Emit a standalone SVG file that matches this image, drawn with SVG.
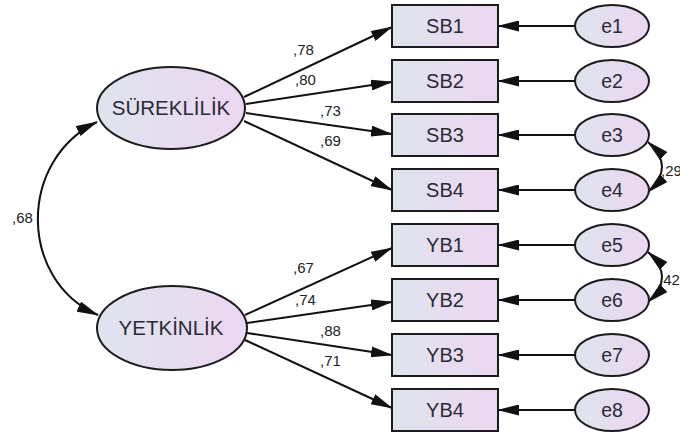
<svg xmlns="http://www.w3.org/2000/svg" width="680" height="440" viewBox="0 0 680 440">
<defs>
<linearGradient id="fillg" x1="0" y1="0" x2="1" y2="0">
<stop offset="0" stop-color="#dfe4ee"/>
<stop offset="1" stop-color="#ecd7f1"/>
</linearGradient>
<marker id="ah" markerUnits="userSpaceOnUse" viewBox="0 0 22 11" refX="21" refY="5.5" markerWidth="22" markerHeight="11" orient="auto-start-reverse">
<path d="M0,0 L22,5.5 L0,11 z" fill="#111"/>
</marker>
<style>
.box{fill:url(#fillg);stroke:#1c1c1c;stroke-width:2}
.ell{fill:url(#fillg);stroke:#1c1c1c;stroke-width:2}
.lbl{font-family:"Liberation Sans",Arial,sans-serif;font-size:20px;fill:#2a2a38;text-anchor:middle}
.err{font-family:"Liberation Sans",Arial,sans-serif;font-size:19.5px;fill:#2a2a38;text-anchor:middle}
.lat{font-family:"Liberation Sans",Arial,sans-serif;font-size:20.5px;fill:#2a2a38;text-anchor:middle}
.coef{font-family:"Liberation Sans",Arial,sans-serif;font-size:15px;fill:#222}
.ln{fill:none;stroke:#111;stroke-width:2;marker-end:url(#ah)}
.cv{fill:none;stroke:#111;stroke-width:2;marker-start:url(#ah);marker-end:url(#ah)}
</style>
</defs>
<rect width="680" height="440" fill="#ffffff"/>
<g id="connectors">
<path class="cv" d="M97 122 C18 160 18 280 98 315"/>
<path class="ln" d="M244 97 L392 27"/>
<path class="ln" d="M246 104 L392 82"/>
<path class="ln" d="M246 113 L392 134"/>
<path class="ln" d="M244 121 L392 190"/>
<path class="ln" d="M245 315 L392 248"/>
<path class="ln" d="M247 323 L392 302"/>
<path class="ln" d="M247 333 L392 355"/>
<path class="ln" d="M245 340 L392 408"/>
<path class="ln" d="M575 26 L498 26"/>
<path class="ln" d="M575 81 L498 81"/>
<path class="ln" d="M575 135 L498 135"/>
<path class="ln" d="M575 190 L498 190"/>
<path class="ln" d="M575 245 L498 245"/>
<path class="ln" d="M575 300 L498 300"/>
<path class="ln" d="M575 355 L498 355"/>
<path class="ln" d="M575 410 L498 410"/>
<path class="cv" d="M648 142 Q676 167 648 192"/>
<path class="cv" d="M648 252 Q676 277 648 302"/>
<text class="coef" x="12" y="223">,68</text>
<text class="coef" x="293" y="55">,78</text>
<text class="coef" x="295" y="85">,80</text>
<text class="coef" x="320" y="116">,73</text>
<text class="coef" x="320" y="146">,69</text>
<text class="coef" x="293" y="273">,67</text>
<text class="coef" x="295" y="305">,74</text>
<text class="coef" x="320" y="336">,88</text>
<text class="coef" x="320" y="366">,71</text>
<text class="coef" x="661" y="176">,29</text>
<text class="coef" x="659" y="285">,42</text>
</g>
<g id="SUREKLILIK"><ellipse class="ell" cx="171" cy="108" rx="74" ry="41"/><text class="lat" x="171" y="115">SÜREKLİLİK</text></g>
<g id="YETKINLIK"><ellipse class="ell" cx="172" cy="328" rx="75" ry="42"/><text class="lat" x="171" y="335">YETKİNLİK</text></g>
<g id="SB1"><rect class="box" x="392" y="5" width="106" height="42"/><text class="lbl" x="445" y="33">SB1</text></g>
<g id="SB2"><rect class="box" x="392" y="60" width="106" height="42"/><text class="lbl" x="445" y="88">SB2</text></g>
<g id="SB3"><rect class="box" x="392" y="114" width="106" height="42"/><text class="lbl" x="445" y="142">SB3</text></g>
<g id="SB4"><rect class="box" x="392" y="169" width="106" height="42"/><text class="lbl" x="445" y="197">SB4</text></g>
<g id="YB1"><rect class="box" x="392" y="224" width="106" height="42"/><text class="lbl" x="445" y="252">YB1</text></g>
<g id="YB2"><rect class="box" x="392" y="279" width="106" height="42"/><text class="lbl" x="445" y="307">YB2</text></g>
<g id="YB3"><rect class="box" x="392" y="334" width="106" height="42"/><text class="lbl" x="445" y="362">YB3</text></g>
<g id="YB4"><rect class="box" x="392" y="389" width="106" height="42"/><text class="lbl" x="445" y="417">YB4</text></g>
<g id="e1"><ellipse class="ell" cx="612" cy="26" rx="37" ry="21"/><text class="err" x="612" y="33">e1</text></g>
<g id="e2"><ellipse class="ell" cx="612" cy="81" rx="37" ry="21"/><text class="err" x="612" y="88">e2</text></g>
<g id="e3"><ellipse class="ell" cx="612" cy="135" rx="37" ry="21"/><text class="err" x="612" y="142">e3</text></g>
<g id="e4"><ellipse class="ell" cx="612" cy="190" rx="37" ry="21"/><text class="err" x="612" y="197">e4</text></g>
<g id="e5"><ellipse class="ell" cx="612" cy="245" rx="37" ry="21"/><text class="err" x="612" y="252">e5</text></g>
<g id="e6"><ellipse class="ell" cx="612" cy="300" rx="37" ry="21"/><text class="err" x="612" y="307">e6</text></g>
<g id="e7"><ellipse class="ell" cx="612" cy="355" rx="37" ry="21"/><text class="err" x="612" y="362">e7</text></g>
<g id="e8"><ellipse class="ell" cx="612" cy="410" rx="37" ry="21"/><text class="err" x="612" y="417">e8</text></g>
</svg>
